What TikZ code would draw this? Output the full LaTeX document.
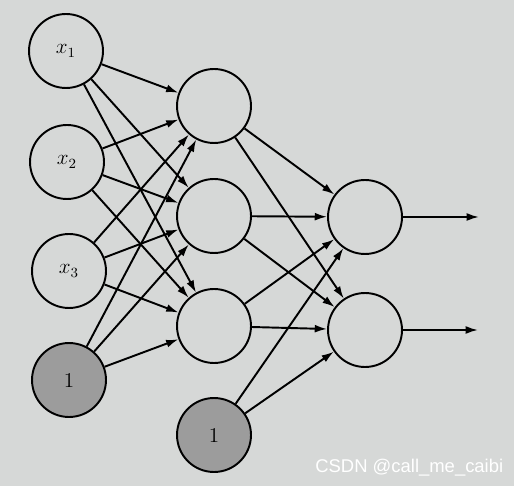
\documentclass[tikz,border=0pt]{standalone}
\usepackage{fontspec}
\newfontfamily\wmfont{Liberation Sans}
\usetikzlibrary{arrows.meta}
\definecolor{paper}{HTML}{D6D8D7}
\definecolor{biasgray}{HTML}{9C9C9C}
\begin{document}
\begin{tikzpicture}[x=0.02cm,y=-0.02cm,
  neuron/.style={circle,draw=black,line width=1.1pt,minimum size=1.48cm,inner sep=0pt,font=\large},
  biasnode/.style={neuron,fill=biasgray},
  conn/.style={line width=1.1pt,-{Latex[length=7pt,width=4.5pt]}}]
\fill[paper] (0,0) rectangle (514,486);
\useasboundingbox (0,0) rectangle (514,486);
% input layer
\node[neuron] (x1) at (66,51) {$x_1$};
\node[neuron] (x2) at (67,162) {$x_2$};
\node[neuron] (x3) at (69,271) {$x_3$};
\node[biasnode] (b1) at (69,380) {1};
% hidden layer
\node[neuron] (h1) at (214,106) {};
\node[neuron] (h2) at (214,216) {};
\node[neuron] (h3) at (214,326) {};
\node[biasnode] (b2) at (214,435) {1};
% output layer
\node[neuron] (o1) at (365,217) {};
\node[neuron] (o2) at (365,330) {};
\coordinate (y1) at (479,217);
\coordinate (y2) at (478,330);
% connections
\foreach \s in {x1,x2,x3,b1}
  \foreach \t in {h1,h2,h3}
    \draw[conn] (\s) -- (\t);
\foreach \s in {h1,h2,h3,b2}
  \foreach \t in {o1,o2}
    \draw[conn] (\s) -- (\t);
\draw[conn] (o1) -- (y1);
\draw[conn] (o2) -- (y2);
% watermark
\node[anchor=base west,text=white,font=\wmfont\fontsize{10.5}{12}\selectfont,inner sep=0pt] (wm) at (315,472) {CSDN @call\_me\_caibi};
\end{tikzpicture}
\end{document}
